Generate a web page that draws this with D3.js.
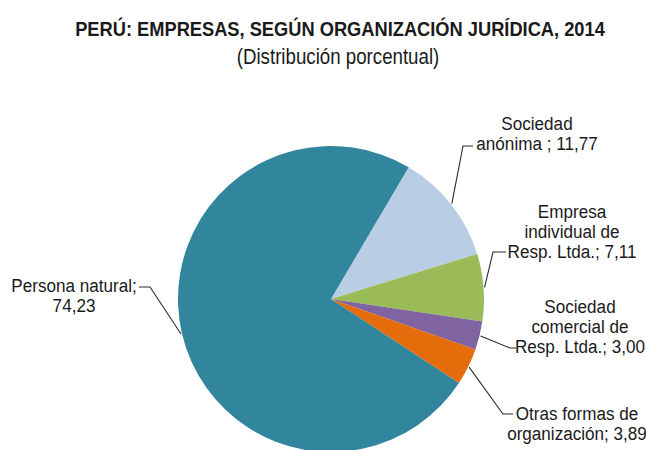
<!DOCTYPE html>
<html>
<head>
<meta charset="utf-8">
<script src="https://cdn.jsdelivr.net/npm/d3@7"></script>
<style>
  body { margin: 0; background: #fff; }
  svg text { font-family: "Liberation Sans", Arial, sans-serif; fill: #1a1a1a; }
</style>
</head>
<body>
<svg id="chart" width="646" height="450"></svg>
<script>
// datos
var categories = ["Sociedad anónima", "Empresa individual de Resp. Ltda.", "Sociedad comercial de Resp. Ltda.", "Otras formas de organización", "Persona natural"];
var values = [11.77, 7.11, 3.00, 3.89, 74.23];
var labelLines = [
  ["Sociedad", "anónima ; "],
  ["Empresa", "individual de", "Resp. Ltda.; "],
  ["Sociedad", "comercial de", "Resp. Ltda.; "],
  ["Otras formas de", "organización; "],
  ["Persona natural;", ""]
];
var colors = ["#b9cde5", "#9bbb59", "#8064a2", "#e46c0a", "#31859c"];

// posicion de las etiquetas (x centro, y primera linea, codo y fin de la linea guia)
var labelPos = [
  { x: 537, y: 130, ex: 463, ey: 146, tx: 473 },
  { x: 572, y: 218, ex: 493, ey: 252, tx: 506 },
  { x: 580, y: 313, ex: 510, ey: 348, tx: 516 },
  { x: 577, y: 420, ex: 503, ey: 414, tx: 513 },
  { x: 74, y: 292, ex: 150, ey: 287, tx: 139 }
];

var svg = d3.select("#chart");
var cx = 331, cy = 299, r = 153;
var lineH = 20;
var narrow = 0.9;

var comma = d3.formatLocale({ decimal: ",", thousands: ".", grouping: [3], currency: ["", ""] });
var fmt = comma.format(".2f");

svg.append("text")
  .attr("transform", "translate(340,36) scale(0.87,1)")
  .attr("text-anchor", "middle")
  .style("font-size", "21px").style("font-weight", "bold")
  .text("PERÚ: EMPRESAS, SEGÚN ORGANIZACIÓN JURÍDICA, 2014");
svg.append("text")
  .attr("transform", "translate(338,64) scale(0.85,1)")
  .attr("text-anchor", "middle")
  .style("font-size", "22px")
  .text("(Distribución porcentual)");

var pie = d3.pie().sort(null).value(d => d)
  .startAngle(30.5 * Math.PI / 180)
  .endAngle(30.5 * Math.PI / 180 + 2 * Math.PI);
var arcs = pie(values);
var arc = d3.arc().innerRadius(0).outerRadius(r);
var edge = d3.arc().innerRadius(r + 1).outerRadius(r + 1);

var g = svg.append("g").attr("transform", "translate(" + cx + "," + cy + ")");
g.selectAll("path")
  .data(arcs)
  .enter()
  .append("path")
  .attr("d", arc)
  .attr("fill", (d, i) => colors[i]);

// lineas guia
arcs.forEach(function (d, i) {
  var p = edge.centroid(d);
  var lp = labelPos[i];
  svg.append("polyline")
    .attr("points", [[cx + p[0], cy + p[1]], [lp.ex, lp.ey], [lp.tx, lp.ey]].map(q => q.join(",")).join(" "))
    .attr("fill", "none")
    .attr("stroke", "#2a2a2a")
    .attr("stroke-width", 1.1);
});

// etiquetas
labelLines.forEach(function (lines, i) {
  var lp = labelPos[i];
  var t = svg.append("text")
    .attr("transform", "translate(" + lp.x + "," + lp.y + ") scale(" + narrow + ",1)")
    .attr("text-anchor", "middle")
    .style("font-size", "19px");
  lines.forEach(function (ln, j) {
    var txt = ln;
    if (j == lines.length - 1) txt = ln + fmt(values[i]);
    t.append("tspan").attr("x", 0).attr("y", j * lineH).text(txt);
  });
});
</script>
</body>
</html>
